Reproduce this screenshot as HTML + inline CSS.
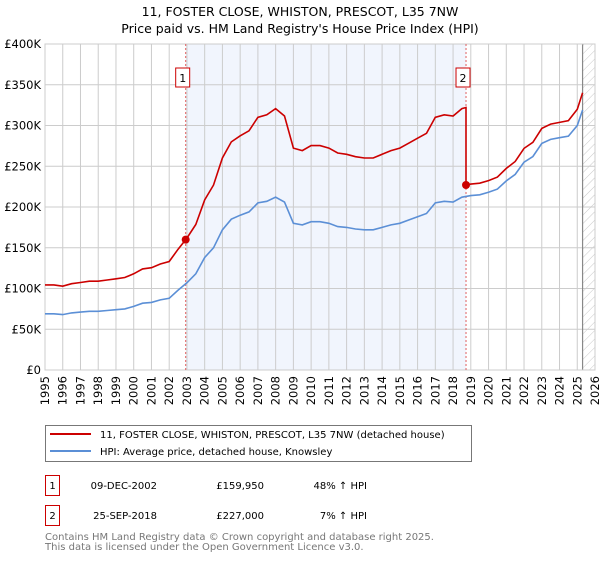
<!DOCTYPE html>
<html><head><meta charset="utf-8"><style>
body{margin:0;background:#fff;font-family:"Liberation Sans","DejaVu Sans",sans-serif;}
svg text{font-family:"DejaVu Sans","Liberation Sans",sans-serif;}
</style></head><body>
<svg width="600" height="560" viewBox="0 0 600 560">
<defs><pattern id="hatch" width="6" height="6" patternUnits="userSpaceOnUse" patternTransform="rotate(45)"><line x1="0" y1="0" x2="0" y2="6" stroke="#bbb" stroke-width="0.8"/></pattern></defs>
<text x="300" y="16" text-anchor="middle" font-size="12.5">11, FOSTER CLOSE, WHISTON, PRESCOT, L35 7NW</text>
<text x="300" y="33" text-anchor="middle" font-size="12.5">Price paid vs. HM Land Registry's House Price Index (HPI)</text>
<g id="plot"></g>
<g id="legend">
<rect x="45.5" y="425.5" width="426" height="36" fill="#fff" stroke="#777" stroke-width="1"/>
<line x1="50" y1="434" x2="91" y2="434" stroke="#cc0000" stroke-width="2"/>
<text x="100" y="438" font-size="10">11, FOSTER CLOSE, WHISTON, PRESCOT, L35 7NW (detached house)</text>
<line x1="50" y1="451" x2="91" y2="451" stroke="#5b8fd6" stroke-width="2"/>
<text x="100" y="455" font-size="10">HPI: Average price, detached house, Knowsley</text>
</g>
<g font-size="10">
<rect x="45.5" y="475.5" width="14" height="20" fill="#fff" stroke="#cc0000"/><text x="52.5" y="489" text-anchor="middle">1</text>
<text x="157" y="489" text-anchor="end">09-DEC-2002</text><text x="264" y="489" text-anchor="end">£159,950</text><text x="367" y="489" text-anchor="end">48% ↑ HPI</text>
<rect x="45.5" y="505.5" width="14" height="20" fill="#fff" stroke="#cc0000"/><text x="52.5" y="519" text-anchor="middle">2</text>
<text x="157" y="519" text-anchor="end">25-SEP-2018</text><text x="264" y="519" text-anchor="end">£227,000</text><text x="367" y="519" text-anchor="end">7% ↑ HPI</text>
</g>
<text x="45" y="540" font-size="10" fill="#777">Contains HM Land Registry data © Crown copyright and database right 2025.</text>
<text x="45" y="550" font-size="10" fill="#777">This data is licensed under the Open Government Licence v3.0.</text>
</svg>
<script>
const hpiYears=[1995,1995.5,1996,1996.5,1997,1997.5,1998,1998.5,1999,1999.5,2000,2000.5,2001,2001.5,2002,2002.5,2003,2003.5,2004,2004.5,2005,2005.5,2006,2006.5,2007,2007.5,2008,2008.5,2009,2009.5,2010,2010.5,2011,2011.5,2012,2012.5,2013,2013.5,2014,2014.5,2015,2015.5,2016,2016.5,2017,2017.5,2018,2018.5,2019,2019.5,2020,2020.5,2021,2021.5,2022,2022.5,2023,2023.5,2024,2024.5,2025,2025.3];
const hpiValues=[69,69,68,70,71,72,72,73,74,75,78,82,83,86,88,98,107,118,138,150,172,185,190,194,205,207,212,206,180,178,182,182,180,176,175,173,172,172,175,178,180,184,188,192,205,207,206,212,214,215,218,222,232,240,255,262,278,283,285,287,300,319];
const saleYears=[2002.93,2018.73];
const salePrices=[159.95,227];
const saleLabels=["1","2"];
const yTicks=[0,50,100,150,200,250,300,350,400];
const yTickLabels=["£0","£50K","£100K","£150K","£200K","£250K","£300K","£350K","£400K"];
const xTicks=[1995,1996,1997,1998,1999,2000,2001,2002,2003,2004,2005,2006,2007,2008,2009,2010,2011,2012,2013,2014,2015,2016,2017,2018,2019,2020,2021,2022,2023,2024,2025,2026];
const X0=45,X1=595,Y0=370,Y1=44;
const xs=y=>X0+(y-1995)/31*(X1-X0);
const ys=v=>Y0-v/400*(Y0-Y1);
const NS="http://www.w3.org/2000/svg";
const g=document.getElementById('plot');
function mk(t,a,p){const e=document.createElementNS(NS,t);for(const k in a)e.setAttribute(k,a[k]);(p||g).appendChild(e);return e;}
function hpiAt(y){for(let i=0;i<hpiYears.length-1;i++){if(y<=hpiYears[i+1]){const t=(y-hpiYears[i])/(hpiYears[i+1]-hpiYears[i]);return hpiValues[i]+t*(hpiValues[i+1]-hpiValues[i]);}}return hpiValues[hpiValues.length-1];}
let e=mk('rect',{x:xs(saleYears[0]),y:Y1,width:xs(saleYears[1])-xs(saleYears[0]),height:Y0-Y1,fill:'#eef3fc',opacity:0.8});

const lastY=hpiYears[hpiYears.length-1];
e=mk('rect',{x:xs(lastY),y:Y1,width:X1-xs(lastY),height:Y0-Y1,fill:'url(#hatch)'});

xTicks.forEach(t=>{const l=mk('line',{x1:xs(t),x2:xs(t),y1:Y1,y2:Y0,stroke:'#ccc','stroke-width':1});

const tx=mk('text',{x:0,y:0,'font-size':11.5,'text-anchor':'end',transform:`translate(${xs(t)+4},${Y0+6}) rotate(-90)`});tx.textContent=t;
});
yTicks.forEach((t,i)=>{const l=mk('line',{x1:X0,x2:X1,y1:ys(t),y2:ys(t),stroke:'#ccc','stroke-width':1});

const tx=mk('text',{x:X0-4,y:ys(t)+4,'font-size':11.5,'text-anchor':'end'});tx.textContent=yTickLabels[i];
});
e=mk('line',{x1:xs(lastY),x2:xs(lastY),y1:Y1,y2:Y0,stroke:'#888','stroke-width':1.2});

e=mk('rect',{x:X0,y:Y1,width:X1-X0,height:Y0-Y1,fill:'none',stroke:'#ccc'});

saleYears.forEach((s,i)=>{const l=mk('line',{x1:xs(s),x2:xs(s),y1:Y1,y2:Y0,stroke:'#e06060','stroke-dasharray':'2,2','stroke-width':1});

const r=mk('rect',{x:xs(s)-10,y:68,width:14,height:19,fill:'#fff',stroke:'#cc0000'});

const t=mk('text',{x:xs(s)-3,y:82,'font-size':11,'text-anchor':'middle'});t.textContent=saleLabels[i];
});
let d='';hpiYears.forEach((y,i)=>{d+=(i?'L':'M')+xs(y).toFixed(1)+','+ys(hpiValues[i]).toFixed(1);});
e=mk('path',{d:d,fill:'none',stroke:'#5b8fd6','stroke-width':1.6});

function propAt(y){let k=0;if(y>=saleYears[1])k=1;return salePrices[k]*hpiAt(y)/hpiAt(saleYears[k]);}
let pts=[];hpiYears.forEach(y=>{if(y<saleYears[1])pts.push([y,propAt(y)]);});
pts.push([saleYears[1],salePrices[0]*hpiAt(saleYears[1])/hpiAt(saleYears[0])]);
pts.push([saleYears[1],salePrices[1]]);
hpiYears.forEach(y=>{if(y>saleYears[1])pts.push([y,propAt(y)]);});
d='';pts.forEach((p,i)=>{d+=(i?'L':'M')+xs(p[0]).toFixed(1)+','+ys(p[1]).toFixed(1);});
e=mk('path',{d:d,fill:'none',stroke:'#cc0000','stroke-width':1.6});

saleYears.forEach((s,i)=>{const c=mk('circle',{cx:xs(s),cy:ys(salePrices[i]),r:4,fill:'#cc0000'});
});
</script>
</body></html>
